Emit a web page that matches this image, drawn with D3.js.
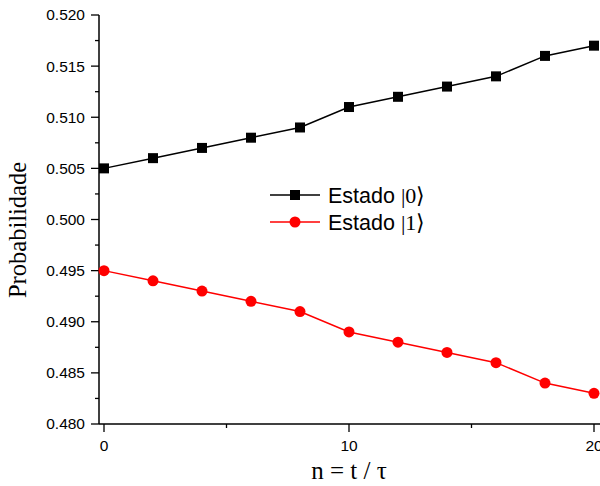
<!DOCTYPE html>
<html>
<head>
<meta charset="utf-8">
<script src="https://cdn.jsdelivr.net/npm/d3@7"></script>
<style>
  body { margin: 0; background: #fff; }
</style>
</head>
<body>
<div id="chart"></div>
<script>
///////////////////////////
// DATA
///////////////////////////

const nValues = [0, 2, 4, 6, 8, 10, 12, 14, 16, 18, 20];
const estado0 = [0.505, 0.506, 0.507, 0.508, 0.509, 0.511, 0.512, 0.513, 0.514, 0.516, 0.517];
const estado1 = [0.495, 0.494, 0.493, 0.492, 0.491, 0.489, 0.488, 0.487, 0.486, 0.484, 0.483];
const xTicks = [0, 10, 20];
const xMinor = [5, 15];
const yTicks = [0.480, 0.485, 0.490, 0.495, 0.500, 0.505, 0.510, 0.515, 0.520];
const yMinor = [0.4825, 0.4875, 0.4925, 0.4975, 0.5025, 0.5075, 0.5125, 0.5175];
const seriesNames = ['0', '1'];

///////////////////////////
// CHART
///////////////////////////

const width = 600;
const height = 486;

const svg = d3.select('#chart')
    .append('svg')
    .attr('width', width)
    .attr('height', height);

const x = d3.scaleLinear().domain([0, 20]).range([104, 594]);
const y = d3.scaleLinear().domain([0.480, 0.520]).range([424, 15]);

// axis lines
svg.append('line')
    .attr('x1', 99).attr('x2', 99)
    .attr('y1', y(0.520)).attr('y2', 424)
    .style('stroke', '#000').style('stroke-width', 1.5);

svg.append('line')
    .attr('x1', 99).attr('x2', 600)
    .attr('y1', 424).attr('y2', 424)
    .style('stroke', '#000').style('stroke-width', 1.5);

// y ticks
svg.selectAll('.ytick')
    .data(yTicks)
    .enter().append('line')
    .attr('class', 'ytick')
    .attr('x1', 91).attr('x2', 99)
    .attr('y1', (d) => { return y(d) })
    .attr('y2', (d) => { return y(d) })
    .style('stroke', '#000').style('stroke-width', 1.3);

svg.selectAll('.yminor')
    .data(yMinor)
    .enter().append('line')
    .attr('class', 'yminor')
    .attr('x1', 95).attr('x2', 99)
    .attr('y1', (d) => { return y(d) })
    .attr('y2', (d) => { return y(d) })
    .style('stroke', '#000').style('stroke-width', 1.3);

svg.selectAll('.ylabel')
    .data(yTicks)
    .enter().append('text')
    .attr('class', 'ylabel')
    .attr('x', 85)
    .attr('y', (d) => { return y(d) })
    .attr('dy', '0.35em')
    .attr('text-anchor', 'end')
    .style('font-family', 'Liberation Sans, Arial, sans-serif')
    .style('font-size', '15.5px')
    .text((d) => { return d3.format('.3f')(d) });

// x ticks
svg.selectAll('.xtick')
    .data(xTicks)
    .enter().append('line')
    .attr('class', 'xtick')
    .attr('x1', (d) => { return x(d) })
    .attr('x2', (d) => { return x(d) })
    .attr('y1', 424).attr('y2', 432)
    .style('stroke', '#000').style('stroke-width', 1.3);

svg.selectAll('.xminor')
    .data(xMinor)
    .enter().append('line')
    .attr('class', 'xminor')
    .attr('x1', (d) => { return x(d) })
    .attr('x2', (d) => { return x(d) })
    .attr('y1', 424).attr('y2', 428)
    .style('stroke', '#000').style('stroke-width', 1.3);

svg.selectAll('.xlabel')
    .data(xTicks)
    .enter().append('text')
    .attr('class', 'xlabel')
    .attr('x', (d) => { return x(d) })
    .attr('y', 451)
    .attr('text-anchor', 'middle')
    .style('font-family', 'Liberation Sans, Arial, sans-serif')
    .style('font-size', '15.5px')
    .text((d) => { return d });

// axis titles
svg.append('text')
    .attr('x', 349)
    .attr('y', 479)
    .attr('text-anchor', 'middle')
    .style('font-family', 'Liberation Serif, Times New Roman, serif')
    .style('font-size', '25px')
    .text('n = t / τ');

svg.append('text')
    .attr('transform', 'translate(26,230) rotate(-90)')
    .attr('text-anchor', 'middle')
    .style('font-family', 'Liberation Serif, Times New Roman, serif')
    .style('font-size', '24.5px')
    .text('Probabilidade');

// series
const line = d3.line()
    .x((d, i) => { return x(nValues[i]) })
    .y((d) => { return y(d) });

svg.append('path')
    .datum(estado0)
    .attr('d', line)
    .style('fill', 'none')
    .style('stroke', '#000')
    .style('stroke-width', 1.5);

svg.append('path')
    .datum(estado1)
    .attr('d', line)
    .style('fill', 'none')
    .style('stroke', '#f00')
    .style('stroke-width', 1.5);

svg.selectAll('.square')
    .data(estado0)
    .enter().append('rect')
    .attr('class', 'square')
    .attr('x', (d, i) => { return x(nValues[i]) - 5 })
    .attr('y', (d) => { return y(d) - 5 })
    .attr('width', 10)
    .attr('height', 10)
    .style('fill', '#000');

svg.selectAll('.dot')
    .data(estado1)
    .enter().append('circle')
    .attr('class', 'dot')
    .attr('cx', (d, i) => { return x(nValues[i]) })
    .attr('cy', (d) => { return y(d) })
    .attr('r', 5.5)
    .style('fill', '#f00');

// legend
const legend = svg.selectAll('.legend')
    .data(seriesNames)
    .enter().append('g')
    .attr('class', 'legend')
    .attr('transform', (d, i) => { return `translate(270,${195 + i * 27})` });

legend.append('line')
    .attr('x1', 0).attr('x2', 50)
    .attr('y1', 0).attr('y2', 0)
    .style('stroke', (d, i) => { return i === 0 ? '#000' : '#f00' })
    .style('stroke-width', 1.5);

legend.filter((d, i) => { return i === 0 })
    .append('rect')
    .attr('x', 20).attr('y', -5)
    .attr('width', 10).attr('height', 10)
    .style('fill', '#000');

legend.filter((d, i) => { return i === 1 })
    .append('circle')
    .attr('cx', 25).attr('cy', 0)
    .attr('r', 5.5)
    .style('fill', '#f00');

const legendText = legend.append('text')
    .attr('x', 58)
    .attr('y', 0)
    .attr('dy', '0.35em')
    .style('font-size', '21.5px');

legendText.append('tspan')
    .style('font-family', 'Liberation Sans, Arial, sans-serif')
    .text('Estado ');

legendText.append('tspan')
    .style('font-family', 'Liberation Serif, Times New Roman, serif')
    .style('font-size', '22px')
    .text((d) => { return `|${d}⟩` });
</script>
</body>
</html>
